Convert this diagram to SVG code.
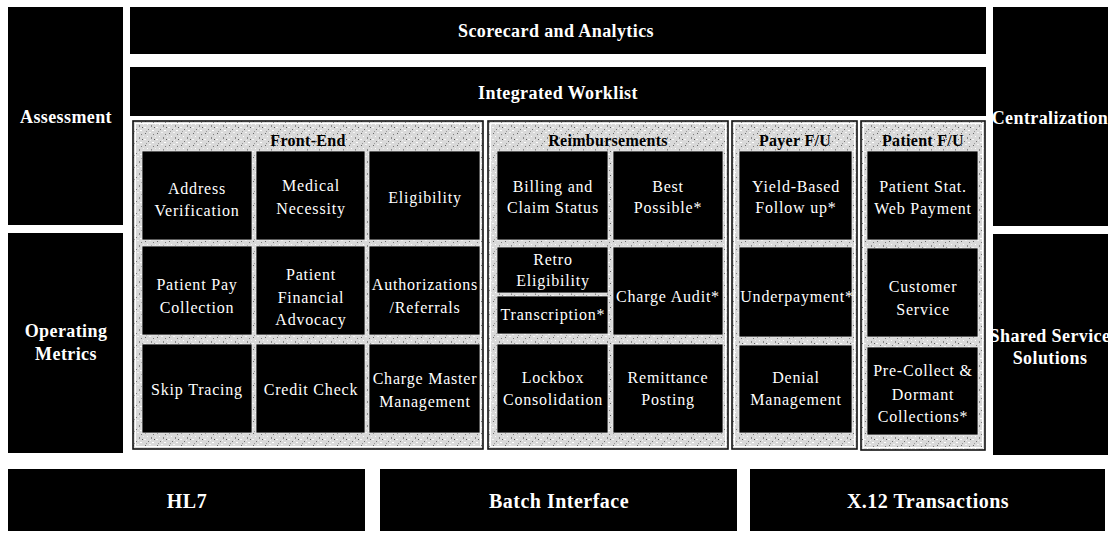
<svg xmlns="http://www.w3.org/2000/svg" width="1113" height="533" viewBox="0 0 1113 533">
<defs>
<pattern id="speckle" width="12" height="12" patternUnits="userSpaceOnUse">
<rect width="12" height="12" fill="#d9d9d9"/>
<rect x="1" y="1" width="1" height="1" fill="#6a6a6a"/>
<rect x="5" y="0" width="2" height="1" fill="#f4f4f4"/>
<rect x="9" y="2" width="1" height="1" fill="#7c7c7c"/>
<rect x="3" y="4" width="1" height="1" fill="#ffffff"/>
<rect x="7" y="5" width="1" height="2" fill="#8a8a8a"/>
<rect x="0" y="7" width="2" height="1" fill="#f8f8f8"/>
<rect x="10" y="7" width="1" height="1" fill="#5e5e5e"/>
<rect x="4" y="9" width="1" height="1" fill="#777"/>
<rect x="8" y="10" width="2" height="1" fill="#fff"/>
<rect x="2" y="11" width="1" height="1" fill="#9a9a9a"/>
<rect x="11" y="4" width="1" height="1" fill="#efefef"/>
<rect x="6" y="8" width="1" height="1" fill="#efefef"/>
</pattern>
<style>
.blk{fill:#000}
.panel{fill:url(#speckle);stroke:#111;stroke-width:1.6}
.inner{fill:none;stroke:#fff;stroke-width:1}
.ttl{font-family:"Liberation Serif","Times New Roman",serif;font-weight:bold;font-size:18px;fill:#fff;text-anchor:middle;letter-spacing:0.4px}
.big{font-family:"Liberation Serif","Times New Roman",serif;font-weight:bold;font-size:20px;fill:#fff;text-anchor:middle;letter-spacing:0.5px}
.hdr{font-family:"Liberation Serif","Times New Roman",serif;font-weight:bold;font-size:16px;fill:#000;text-anchor:middle;letter-spacing:0.3px}
.cell{font-family:"Liberation Serif","Times New Roman",serif;font-size:16px;fill:#fff;text-anchor:middle;letter-spacing:0.8px}
.box{fill:#000;stroke:#e8e8e8;stroke-width:0.8}
</style>
</defs>
<rect width="1113" height="533" fill="#fff"/>

<g id="assessment"><rect class="blk" x="8" y="7" width="115" height="218"/><text class="ttl" x="66" y="123">Assessment</text></g>
<g id="operating-metrics"><rect class="blk" x="8" y="233" width="115" height="220"/><text class="ttl" x="66" y="337">Operating</text><text class="ttl" x="66" y="360">Metrics</text></g>
<g id="scorecard"><rect class="blk" x="130" y="7" width="856" height="47"/><text class="ttl" x="556" y="37">Scorecard and Analytics</text></g>
<g id="worklist"><rect class="blk" x="130" y="67" width="856" height="49"/><text class="ttl" x="558" y="99">Integrated Worklist</text></g>
<g id="centralization"><rect class="blk" x="993" y="7" width="115" height="219"/><text class="ttl" x="1050" y="124">Centralization</text></g>
<g id="shared-service"><rect class="blk" x="993" y="234" width="115" height="221"/><text class="ttl" x="1050" y="342">Shared Service</text><text class="ttl" x="1050" y="364">Solutions</text></g>

<g id="front-end">
<rect class="panel" x="133" y="121" width="350" height="328"/>
<rect class="inner" x="135.5" y="123.5" width="345" height="323"/>
<text class="hdr" x="308" y="146">Front-End</text>
<g id="address-verification"><rect class="box" x="142" y="151" width="110" height="89"/><text class="cell" x="197" y="194">Address</text><text class="cell" x="197" y="216">Verification</text></g>
<g id="medical-necessity"><rect class="box" x="256" y="151" width="109" height="89"/><text class="cell" x="311" y="191">Medical</text><text class="cell" x="311" y="214">Necessity</text></g>
<g id="eligibility"><rect class="box" x="369" y="151" width="111" height="89"/><text class="cell" x="425" y="203">Eligibility</text></g>
<g id="patient-pay"><rect class="box" x="142" y="246" width="110" height="89"/><text class="cell" x="197" y="290">Patient Pay</text><text class="cell" x="197" y="313">Collection</text></g>
<g id="financial-advocacy"><rect class="box" x="256" y="246" width="109" height="89"/><text class="cell" x="311" y="280">Patient</text><text class="cell" x="311" y="303">Financial</text><text class="cell" x="311" y="325">Advocacy</text></g>
<g id="authorizations"><rect class="box" x="369" y="246" width="111" height="89"/><text class="cell" x="425" y="290">Authorizations</text><text class="cell" x="425" y="313">/Referrals</text></g>
<g id="skip-tracing"><rect class="box" x="142" y="344" width="110" height="89"/><text class="cell" x="197" y="395">Skip Tracing</text></g>
<g id="credit-check"><rect class="box" x="256" y="344" width="109" height="89"/><text class="cell" x="311" y="395">Credit Check</text></g>
<g id="charge-master"><rect class="box" x="369" y="344" width="111" height="89"/><text class="cell" x="425" y="384">Charge Master</text><text class="cell" x="425" y="407">Management</text></g>
</g>

<g id="reimbursements">
<rect class="panel" x="488" y="121" width="240" height="328"/>
<rect class="inner" x="490.5" y="123.5" width="235" height="323"/>
<text class="hdr" x="608" y="146">Reimbursements</text>
<g id="billing"><rect class="box" x="497" y="151" width="111" height="89"/><text class="cell" x="553" y="192">Billing and</text><text class="cell" x="553" y="213">Claim Status</text></g>
<g id="best-possible"><rect class="box" x="613" y="151" width="110" height="89"/><text class="cell" x="668" y="192">Best</text><text class="cell" x="668" y="213">Possible*</text></g>
<g id="retro-eligibility"><rect class="box" x="497" y="247" width="111" height="46"/><text class="cell" x="553" y="265">Retro</text><text class="cell" x="553" y="286">Eligibility</text></g>
<g id="transcription"><rect class="box" x="497" y="296" width="111" height="38"/><text class="cell" x="553" y="320">Transcription*</text></g>
<g id="charge-audit"><rect class="box" x="613" y="247" width="110" height="88"/><text class="cell" x="668" y="302">Charge Audit*</text></g>
<g id="lockbox"><rect class="box" x="497" y="344" width="111" height="89"/><text class="cell" x="553" y="383">Lockbox</text><text class="cell" x="553" y="405">Consolidation</text></g>
<g id="remittance"><rect class="box" x="613" y="344" width="110" height="89"/><text class="cell" x="668" y="383">Remittance</text><text class="cell" x="668" y="405">Posting</text></g>
</g>

<g id="payer-fu">
<rect class="panel" x="732" y="121" width="125" height="328"/>
<rect class="inner" x="734.5" y="123.5" width="120" height="323"/>
<text class="hdr" x="795" y="146">Payer F/U</text>
<g id="yield-based"><rect class="box" x="739" y="151" width="113" height="89"/><text class="cell" x="796" y="192">Yield-Based</text><text class="cell" x="796" y="213">Follow up*</text></g>
<g id="underpayment"><rect class="box" x="739" y="247" width="113" height="90"/><text class="cell" x="797" y="302">Underpayment*</text></g>
<g id="denial"><rect class="box" x="739" y="345" width="113" height="88"/><text class="cell" x="796" y="383">Denial</text><text class="cell" x="796" y="405">Management</text></g>
</g>

<g id="patient-fu">
<rect class="panel" x="861" y="121" width="124" height="329"/>
<rect class="inner" x="863.5" y="123.5" width="119" height="324"/>
<text class="hdr" x="923" y="146">Patient F/U</text>
<g id="web-payment"><rect class="box" x="867" y="151" width="111" height="89"/><text class="cell" x="923" y="192">Patient Stat.</text><text class="cell" x="923" y="214">Web Payment</text></g>
<g id="customer-service"><rect class="box" x="867" y="248" width="111" height="89"/><text class="cell" x="923" y="292">Customer</text><text class="cell" x="923" y="315">Service</text></g>
<g id="pre-collect"><rect class="box" x="867" y="347" width="111" height="88"/><text class="cell" x="923" y="376">Pre-Collect &amp;</text><text class="cell" x="923" y="400">Dormant</text><text class="cell" x="923" y="422">Collections*</text></g>
</g>

<g id="hl7"><rect class="blk" x="8" y="469" width="357" height="62"/><text class="big" x="187" y="508">HL7</text></g>
<g id="batch-interface"><rect class="blk" x="380" y="469" width="357" height="62"/><text class="big" x="559" y="508">Batch Interface</text></g>
<g id="x12"><rect class="blk" x="750" y="469" width="355" height="62"/><text class="big" x="928" y="508">X.12 Transactions</text></g>

<g id="connectors"></g>
</svg>
